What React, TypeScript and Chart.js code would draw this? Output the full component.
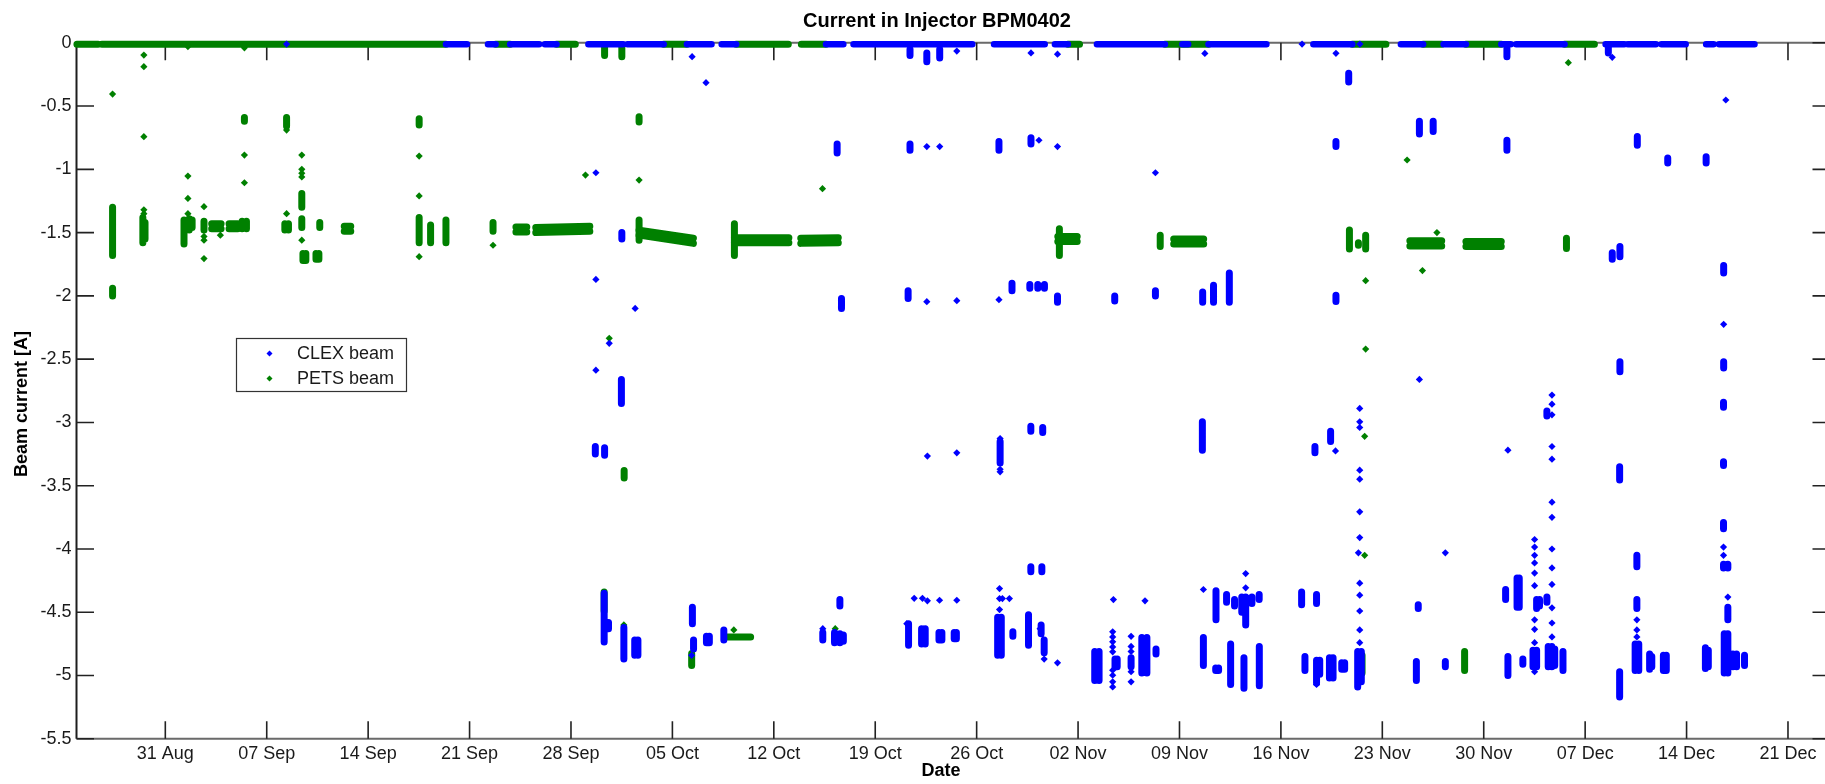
import React, { useEffect, useRef } from 'react';
import { Chart, registerables } from 'chart.js';

Chart.register(...registerables);

// x values: days after 31 Aug (00:00); y values: beam current [A]
const xRange = [-6.13, 114.9];
const yRange = [-5.5, 0];
const tickDays = [0, 7, 14, 21, 28, 35, 42, 49, 56, 63, 70, 77, 84, 91, 98, 105, 112];
const tickLabels = ['31 Aug', '07 Sep', '14 Sep', '21 Sep', '28 Sep', '05 Oct', '12 Oct', '19 Oct', '26 Oct', '02 Nov', '09 Nov', '16 Nov', '23 Nov', '30 Nov', '07 Dec', '14 Dec', '21 Dec'];
const seriesNames = ['CLEX beam', 'PETS beam'];
const titleText = 'Current in Injector BPM0402';
const xTitle = 'Date';
const yTitle = 'Beam current [A]';

// ---------- CLEX beam ----------
// runs of consecutive readings: [dayFrom, dayTo, yFrom, yTo]
const clexRuns = [
  [19.37, 20.82, -0.012, -0.012], [22.27, 22.8, -0.012, -0.012], [23.8, 25.8, -0.012, -0.012],
  [26.2, 27.0, -0.012, -0.012], [29.2, 31.6, -0.012, -0.012], [31.9, 32.7, -0.012, -0.012],
  [32.8, 34.4, -0.012, -0.012], [36.0, 37.7, -0.012, -0.012], [38.4, 39.4, -0.012, -0.012],
  [45.6, 46.8, -0.012, -0.012], [47.5, 55.7, -0.012, -0.012], [57.2, 60.7, -0.012, -0.012],
  [61.4, 62.3, -0.012, -0.012], [64.3, 69.0, -0.012, -0.012], [70.2, 70.6, -0.012, -0.012],
  [72.0, 76.0, -0.012, -0.012], [79.24, 81.93, -0.012, -0.012], [85.28, 86.82, -0.012, -0.012],
  [88.23, 89.77, -0.012, -0.012], [92.21, 92.86, -0.012, -0.012], [93.24, 96.58, -0.012, -0.012],
  [99.41, 100.7, -0.012, -0.012], [100.95, 102.88, -0.012, -0.012], [103.27, 104.94, -0.012, -0.012],
  [106.35, 106.86, -0.012, -0.012], [107.25, 109.69, -0.012, -0.012],
];
// bursts of readings at one time: [day, yTop, yBottom]
const clexStreaks = [
  [31.51, -1.5, -1.55], [31.48, -2.66, -2.85], [29.68, -3.19, -3.25], [30.32, -3.2, -3.26],
  [46.37, -0.8, -0.87], [46.67, -2.02, -2.1], [51.27, -1.96, -2.02], [51.4, -0.8, -0.85],
  [51.4, -0.05, -0.1], [52.56, -0.08, -0.15], [53.45, -0.05, -0.12], [57.54, -0.78, -0.85],
  [58.44, -1.9, -1.96], [59.75, -0.75, -0.8], [59.67, -1.91, -1.94], [60.22, -1.91, -1.94],
  [60.68, -1.91, -1.94], [61.58, -2.0, -2.05], [65.53, -2.0, -2.04], [68.34, -1.96, -2.0],
  [71.6, -1.97, -2.05], [72.35, -1.915, -2.05], [73.44, -1.82, -2.05], [80.8, -0.78, -0.82],
  [80.8, -1.995, -2.045], [81.68, -0.24, -0.31], [86.56, -0.62, -0.72], [87.51, -0.62, -0.7],
  [92.6, -0.77, -0.85], [92.6, -0.045, -0.11], [99.87, -1.66, -1.71], [100.4, -1.61, -1.69],
  [100.4, -2.52, -2.6], [101.6, -0.74, -0.81], [103.7, -0.91, -0.95], [106.35, -0.9, -0.95],
  [107.56, -1.76, -1.82], [107.56, -2.52, -2.57], [99.6, -0.03, -0.08],
  [30.29, -4.35, -4.735], [30.59, -4.58, -4.63], [31.65, -4.62, -4.87], [32.4, -4.72, -4.84],
  [32.62, -4.72, -4.84], [36.38, -4.46, -4.59], [36.46, -4.72, -4.79], [37.35, -4.69, -4.74],
  [37.55, -4.69, -4.74], [38.55, -4.64, -4.72], [45.38, -4.66, -4.72], [46.19, -4.66, -4.74],
  [46.56, -4.67, -4.74], [46.8, -4.68, -4.73], [46.56, -4.4, -4.45],
  [51.3, -4.59, -4.76], [52.2, -4.63, -4.75], [52.45, -4.63, -4.75], [53.4, -4.66, -4.72],
  [53.6, -4.66, -4.72], [54.45, -4.66, -4.71], [54.6, -4.66, -4.71], [57.62, -3.15, -3.32],
  [59.74, -3.03, -3.07], [60.56, -3.04, -3.08], [71.58, -2.995, -3.22], [79.35, -3.19, -3.24],
  [80.43, -3.07, -3.15], [57.45, -4.54, -4.84], [57.7, -4.54, -4.84], [58.5, -4.655, -4.69],
  [59.58, -4.52, -4.76], [59.74, -4.14, -4.18], [60.5, -4.14, -4.18], [60.45, -4.6, -4.67],
  [60.66, -4.72, -4.82], [64.15, -4.81, -5.04], [64.45, -4.81, -5.04], [65.55, -4.87, -4.93],
  [65.7, -4.87, -4.93], [66.66, -4.86, -4.93], [67.4, -4.7, -4.98], [67.75, -4.7, -4.98],
  [68.38, -4.79, -4.83], [71.65, -4.7, -4.92], [72.52, -4.33, -4.56], [72.5, -4.94, -4.96],
  [72.7, -4.94, -4.96], [73.25, -4.36, -4.42], [73.8, -4.4, -4.45], [74.3, -4.38, -4.5],
  [74.57, -4.38, -4.6], [75.0, -4.38, -4.43], [75.5, -4.36, -4.4], [73.53, -4.75, -5.07],
  [74.45, -4.86, -5.1], [75.51, -4.77, -5.08], [78.43, -4.34, -4.44], [79.46, -4.36, -4.43],
  [78.66, -4.85, -4.96], [79.46, -4.88, -5.06], [79.68, -4.88, -4.99], [80.35, -4.86, -5.02],
  [80.6, -4.86, -5.02], [81.2, -4.9, -4.95], [81.4, -4.9, -4.95], [82.3, -4.81, -5.09],
  [82.55, -4.81, -5.05], [86.48, -4.44, -4.47], [86.35, -4.89, -5.04], [88.35, -4.89, -4.93],
  [92.67, -4.85, -5.0], [92.51, -4.32, -4.4], [93.3, -4.23, -4.46], [93.45, -4.23, -4.46],
  [93.7, -4.87, -4.91], [94.65, -4.4, -4.47], [94.85, -4.4, -4.45], [94.4, -4.8, -4.93],
  [94.65, -4.8, -4.93], [95.36, -2.91, -2.95], [95.36, -4.38, -4.42], [95.45, -4.77, -4.93],
  [95.7, -4.77, -4.93], [95.9, -4.79, -4.92], [96.47, -4.81, -4.96], [100.38, -3.35, -3.455],
  [100.38, -4.97, -5.17], [101.57, -4.05, -4.14], [101.57, -4.4, -4.47], [101.45, -4.75, -4.96],
  [101.7, -4.75, -4.96], [102.45, -4.83, -4.95], [102.6, -4.85, -4.93], [103.4, -4.84, -4.96],
  [103.6, -4.84, -4.96], [106.3, -4.78, -4.945], [106.5, -4.8, -4.93], [107.55, -2.84, -2.88],
  [107.55, -3.31, -3.34], [107.55, -3.79, -3.84], [107.55, -4.12, -4.15], [107.85, -4.12, -4.15],
  [107.85, -4.46, -4.56], [107.6, -4.67, -4.98], [107.85, -4.67, -4.98], [108.2, -4.83, -4.93],
  [108.45, -4.83, -4.93], [109.0, -4.84, -4.92],
];
// single readings: [day, y]
const clexPoints = [
  [8.37, -0.01], [29.72, -1.027], [29.72, -1.87], [29.72, -2.587], [30.64, -2.375], [32.43, -2.099],
  [36.36, -0.11], [37.32, -0.315], [52.56, -0.82], [53.45, -0.82], [52.56, -2.046], [54.63, -2.038],
  [54.63, -0.065], [57.54, -2.03], [60.3, -0.77], [61.58, -0.82], [61.58, -0.09], [59.75, -0.08],
  [68.34, -1.027], [71.75, -0.084], [80.8, -0.083], [86.56, -2.66], [99.87, -0.115], [107.71, -0.452],
  [107.56, -2.225], [78.46, -0.01], [82.45, -0.01], [36.33, -4.84], [45.38, -4.63],
  [52.6, -3.266], [54.63, -3.24], [57.62, -3.127], [57.62, -3.37], [57.62, -3.39], [80.77, -3.225],
  [51.69, -4.39], [52.26, -4.39], [52.6, -4.41], [53.44, -4.405], [54.63, -4.405], [51.18, -4.59],
  [57.58, -4.313], [57.58, -4.392], [57.58, -4.479], [57.78, -4.392], [58.26, -4.392],
  [60.66, -4.87], [61.58, -4.9], [60.38, -4.63],
  [65.39, -4.655], [65.39, -4.695], [65.39, -4.734], [65.39, -4.774], [65.39, -4.813],
  [65.39, -4.958], [65.39, -4.998], [65.39, -5.05], [65.39, -5.09], [65.44, -4.4],
  [66.66, -4.69], [66.66, -4.77], [66.66, -4.81], [66.66, -4.97], [66.66, -5.05],
  [67.62, -4.41], [71.65, -4.32], [74.57, -4.194], [74.57, -4.307], [79.46, -5.07],
  [82.44, -2.889], [82.44, -2.995], [82.44, -3.04], [82.44, -3.377], [82.44, -3.448], [82.44, -3.706],
  [82.44, -3.91], [82.35, -4.03], [82.44, -4.27], [82.44, -4.365], [82.44, -4.49], [82.44, -4.64],
  [82.44, -4.74], [88.35, -4.03], [92.67, -3.219],
  [94.51, -3.925], [94.51, -3.985], [94.51, -4.05], [94.51, -4.11], [94.51, -4.19], [94.51, -4.29],
  [94.51, -4.56], [94.51, -4.635], [94.51, -4.74], [94.51, -4.97],
  [95.71, -2.784], [95.71, -2.856], [95.71, -2.94], [95.71, -3.19], [95.71, -3.29], [95.71, -3.63],
  [95.71, -3.75], [95.71, -4.0], [95.71, -4.15], [95.71, -4.28], [95.71, -4.465], [95.71, -4.585],
  [95.71, -4.695], [101.57, -4.56], [101.57, -4.64], [101.57, -4.695],
  [107.55, -3.985], [107.55, -4.05], [107.85, -4.38],
];

// ---------- PETS beam ----------
const petsRuns = [
  [-6.1, -4.64, -0.012, -0.012], [-4.38, 19.37, -0.012, -0.012], [22.8, 23.8, -0.012, -0.012],
  [27.0, 28.3, -0.012, -0.012], [34.4, 36.0, -0.012, -0.012], [39.4, 43.0, -0.012, -0.012],
  [43.9, 45.6, -0.012, -0.012], [62.3, 63.1, -0.012, -0.012], [69.0, 72.0, -0.012, -0.012],
  [81.93, 84.25, -0.012, -0.012], [86.82, 88.1, -0.012, -0.012], [89.77, 92.21, -0.012, -0.012],
  [96.58, 98.64, -0.012, -0.012],
  [3.2, 3.85, -1.43, -1.43], [3.2, 3.85, -1.47, -1.47], [4.4, 5.0, -1.43, -1.43], [4.4, 5.0, -1.47, -1.47],
  [12.35, 12.8, -1.45, -1.45], [12.35, 12.8, -1.49, -1.49], [24.2, 24.95, -1.455, -1.455],
  [24.2, 24.95, -1.495, -1.495], [25.57, 29.3, -1.46, -1.45], [25.57, 29.3, -1.5, -1.49],
  [32.7, 36.45, -1.48, -1.545], [32.7, 36.45, -1.52, -1.585], [39.28, 43.04, -1.54, -1.54],
  [39.28, 43.04, -1.58, -1.58], [43.86, 46.45, -1.545, -1.54], [43.86, 46.45, -1.585, -1.58],
  [61.6, 62.94, -1.53, -1.53], [61.6, 62.94, -1.57, -1.57], [69.6, 71.67, -1.55, -1.55],
  [69.6, 71.67, -1.59, -1.59], [85.9, 88.1, -1.565, -1.565], [85.9, 88.1, -1.605, -1.605],
  [89.77, 92.21, -1.57, -1.57], [89.77, 92.21, -1.61, -1.61], [38.8, 40.4, -4.695, -4.695],
];
const petsStreaks = [
  [-3.64, -1.3, -1.68], [-3.64, -1.94, -2.0], [-1.55, -1.38, -1.58], [-1.4, -1.42, -1.55],
  [1.29, -1.4, -1.59], [1.65, -1.39, -1.48], [1.85, -1.4, -1.46], [2.67, -1.41, -1.48],
  [5.3, -1.41, -1.47], [5.6, -1.41, -1.47], [5.46, -0.59, -0.62], [8.37, -0.59, -0.66],
  [8.25, -1.43, -1.48], [8.5, -1.43, -1.48], [9.42, -1.39, -1.46], [9.42, -1.19, -1.3],
  [9.5, -1.665, -1.72], [9.7, -1.665, -1.72], [10.4, -1.665, -1.71], [10.6, -1.665, -1.71],
  [10.66, -1.42, -1.46], [17.52, -0.6, -0.65], [17.52, -1.38, -1.58], [18.31, -1.44, -1.58],
  [19.37, -1.4, -1.58], [22.62, -1.42, -1.49], [32.7, -1.4, -1.56], [32.7, -0.585, -0.625],
  [39.28, -1.43, -1.68], [61.71, -1.47, -1.68], [68.67, -1.52, -1.61], [81.73, -1.48, -1.63],
  [82.35, -1.58, -1.6], [82.85, -1.52, -1.63], [30.32, -0.03, -0.1], [31.51, -0.03, -0.11],
  [96.71, -1.545, -1.625], [89.68, -4.81, -4.96], [30.29, -4.34, -4.49], [36.33, -4.825, -4.92],
  [31.67, -3.38, -3.44], [82.6, -4.84, -4.98],
];
const petsPoints = [
  [-3.64, -0.405], [-1.48, -0.097], [-1.48, -0.189], [-1.48, -0.742], [-1.48, -1.32], [-1.48, -1.35],
  [1.56, -1.053], [1.56, -1.23], [1.56, -1.35], [1.56, -0.03], [2.67, -1.295], [2.67, -1.56],
  [2.67, -1.705], [2.67, -1.53], [3.8, -1.52], [5.46, -0.887], [5.46, -1.106], [5.46, -0.04],
  [8.37, -0.69], [8.37, -1.35], [9.42, -0.887], [9.42, -1.0], [9.42, -1.03], [9.42, -1.06],
  [9.42, -1.56], [17.52, -0.895], [17.52, -1.21], [17.52, -1.69], [22.62, -1.6], [29.0, -1.045],
  [30.64, -2.335], [32.7, -1.085], [45.36, -1.153], [82.85, -1.88], [82.85, -2.42], [85.71, -0.926],
  [87.77, -1.5], [86.77, -1.8], [96.84, -0.157], [82.78, -3.11], [82.78, -4.05], [31.65, -4.6],
  [46.24, -4.63], [39.24, -4.64],
];

const CLEX_COLOR = '#0000ff';
const PETS_COLOR = '#008000';
const FONT = '"Liberation Sans", Arial, Helvetica, sans-serif';

function runsToLine(runs: number[][]) {
  const out: any[] = [];
  runs.forEach(([a, b, y1, y2]) => {
    out.push({ x: a, y: y1 }, { x: b, y: y2 }, { x: b, y: null });
  });
  return out;
}
function streaksToLine(streaks: number[][]) {
  const out: any[] = [];
  streaks.forEach(([d, y1, y2]) => {
    out.push({ x: d, y: y1 }, { x: d, y: y2 }, { x: d, y: null });
  });
  return out;
}
function pointsToData(points: number[][]) {
  return points.map(([x, y]) => ({ x, y }));
}

const decorPlugin = {
  id: 'decor',
  beforeDraw(chart: any) {
    const { ctx, width, height } = chart;
    ctx.save();
    ctx.fillStyle = '#ffffff';
    ctx.fillRect(0, 0, width, height);
    ctx.restore();
  },
  beforeDatasetsDraw(chart: any) {
    const { ctx, chartArea } = chart;
    const { left, right, top, bottom } = chartArea;
    const xs = chart.scales.x;
    const ys = chart.scales.y;
    const tl = 17.5;
    ctx.save();
    ctx.lineWidth = 2;
    ctx.strokeStyle = '#6a6a6a';
    ctx.beginPath();
    ctx.moveTo(left, top); ctx.lineTo(right, top);
    ctx.moveTo(left, bottom); ctx.lineTo(right, bottom);
    ctx.moveTo(right, top); ctx.lineTo(right, bottom);
    ctx.stroke();
    ctx.strokeStyle = '#1e1e1e';
    ctx.beginPath();
    ctx.moveTo(left, top); ctx.lineTo(left, bottom);
    ctx.stroke();
    ctx.lineWidth = 1.6;
    ctx.strokeStyle = '#222222';
    ctx.beginPath();
    tickDays.forEach((d) => {
      const px = xs.getPixelForValue(d);
      ctx.moveTo(px, bottom); ctx.lineTo(px, bottom - tl);
      ctx.moveTo(px, top); ctx.lineTo(px, top + tl);
    });
    ys.ticks.forEach((t: any) => {
      const py = ys.getPixelForValue(t.value);
      ctx.moveTo(left, py); ctx.lineTo(left + tl, py);
      ctx.moveTo(right, py); ctx.lineTo(right - tl, py);
    });
    ctx.stroke();
    ctx.restore();
  },
  afterDraw(chart: any) {
    const { ctx } = chart;
    ctx.save();
    ctx.fillStyle = '#000000';
    ctx.font = `bold 20px ${FONT}`;
    ctx.textAlign = 'center';
    ctx.textBaseline = 'alphabetic';
    ctx.fillText(titleText, 937, 27);
    ctx.font = `bold 18px ${FONT}`;
    ctx.fillText(xTitle, 941, 776);
    ctx.save();
    ctx.translate(27, 404);
    ctx.rotate(-Math.PI / 2);
    ctx.fillText(yTitle, 0, 0);
    ctx.restore();
    // legend
    const bx = 236.5, by = 338.5, bw = 170, bh = 53;
    ctx.fillStyle = '#ffffff';
    ctx.fillRect(bx, by, bw, bh);
    ctx.strokeStyle = '#333333';
    ctx.lineWidth = 1.2;
    ctx.strokeRect(bx, by, bw, bh);
    const rows = [
      { y: 353.5, color: chart.data.datasets[0].backgroundColor, label: chart.data.datasets[0].label },
      { y: 378.5, color: chart.data.datasets[3].backgroundColor, label: chart.data.datasets[3].label },
    ];
    ctx.font = `18px ${FONT}`;
    ctx.textAlign = 'left';
    ctx.textBaseline = 'middle';
    rows.forEach((r) => {
      ctx.fillStyle = r.color;
      ctx.beginPath();
      ctx.moveTo(269.5, r.y - 3);
      ctx.lineTo(272.5, r.y);
      ctx.lineTo(269.5, r.y + 3);
      ctx.lineTo(266.5, r.y);
      ctx.closePath();
      ctx.fill();
      ctx.fillStyle = '#1a1a1a';
      ctx.fillText(r.label, 297, r.y + 1);
    });
    ctx.restore();
  },
};

export default function App() {
  const canvasRef = useRef<HTMLCanvasElement | null>(null);

  useEffect(() => {
    const canvas = canvasRef.current;
    if (!canvas) return;
    const lineBase = {
      type: 'line',
      showLine: true,
      pointRadius: 0,
      pointHoverRadius: 0,
      borderCapStyle: 'round',
      borderJoinStyle: 'round',
      spanGaps: false,
      tension: 0,
      clip: false,
      fill: false,
    };
    const chart = new Chart(canvas, {
      type: 'scatter',
      data: {
        datasets: [
          {
            label: seriesNames[0],
            data: pointsToData(clexPoints),
            backgroundColor: CLEX_COLOR,
            borderColor: CLEX_COLOR,
            pointStyle: 'rectRot',
            pointRadius: 3.6,
            borderWidth: 0,
            clip: false,
          },
          { ...lineBase, label: seriesNames[0] + ' bursts', data: streaksToLine(clexStreaks), borderColor: CLEX_COLOR, backgroundColor: CLEX_COLOR, borderWidth: 7 },
          { ...lineBase, label: seriesNames[0] + ' runs', data: runsToLine(clexRuns), borderColor: CLEX_COLOR, backgroundColor: CLEX_COLOR, borderWidth: 6.5 },
          {
            label: seriesNames[1],
            data: pointsToData(petsPoints),
            backgroundColor: PETS_COLOR,
            borderColor: PETS_COLOR,
            pointStyle: 'rectRot',
            pointRadius: 3.6,
            borderWidth: 0,
            clip: false,
          },
          { ...lineBase, label: seriesNames[1] + ' bursts', data: streaksToLine(petsStreaks), borderColor: PETS_COLOR, backgroundColor: PETS_COLOR, borderWidth: 7 },
          { ...lineBase, label: seriesNames[1] + ' runs', data: runsToLine(petsRuns), borderColor: PETS_COLOR, backgroundColor: PETS_COLOR, borderWidth: 7 },
        ] as any,
      },
      options: {
        animation: false,
        responsive: false,
        maintainAspectRatio: false,
        events: [],
        layout: { padding: { top: 42.8, right: 10, left: 0, bottom: 0 } },
        plugins: {
          legend: { display: false },
          title: { display: false },
          tooltip: { enabled: false },
        },
        scales: {
          x: {
            type: 'linear',
            min: xRange[0],
            max: xRange[1],
            grid: { display: false, drawTicks: false },
            border: { display: false },
            afterBuildTicks: (s: any) => {
              s.ticks = tickDays.map((v) => ({ value: v }));
            },
            afterFit: (s: any) => {
              s.height = 45.2;
            },
            ticks: {
              autoSkip: false,
              maxRotation: 0,
              minRotation: 0,
              padding: 4,
              color: '#1a1a1a',
              font: { family: FONT, size: 18 },
              callback: (v: any) => {
                const i = tickDays.indexOf(Number(v));
                return i >= 0 ? tickLabels[i] : '';
              },
            },
          },
          y: {
            type: 'linear',
            min: yRange[0],
            max: yRange[1],
            grid: { display: false, drawTicks: false },
            border: { display: false },
            afterFit: (s: any) => {
              s.width = 76.5;
            },
            ticks: {
              stepSize: 0.5,
              padding: 5,
              color: '#1a1a1a',
              font: { family: FONT, size: 18 },
              callback: (v: any) => String(Math.round(Number(v) * 10) / 10),
            },
          },
        },
      } as any,
      plugins: [decorPlugin as any],
    });
    return () => chart.destroy();
  }, []);

  return (
    <div style={{ position: 'fixed', left: 0, top: 0, width: '100vw', height: '100vh', overflow: 'hidden', background: '#ffffff' }}>
      <canvas ref={canvasRef} width={1840} height={784} style={{ display: 'block', width: 1840, height: 784 }} />
    </div>
  );
}
